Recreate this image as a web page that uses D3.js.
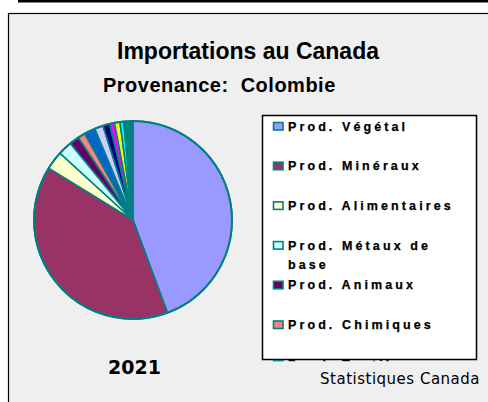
<!DOCTYPE html>
<meta charset="utf-8">
<script src="https://d3js.org/d3.v7.min.js"></script>
<style>
  body { margin: 0; background: #fff; }
</style>
<div id="chart"></div>
<script>

// categories (clockwise from 12 o'clock), share in %
var categories = ["Prod. Végétal", "Prod. Minéraux", "Prod. Alimentaires",
  "Prod. Métaux de base", "Prod. Animaux", "Prod. Chimiques", "Prod. Textiles",
  "Prod. Plastiques", "Machines", "Prod. Papier", "Prod. Pierres",
  "Instruments", "Autres"]
var values = [44.3, 39.4, 3.0, 2.3, 1.6, 1.2, 1.8, 1.4, 1.1, 0.8, 0.9, 0.6, 1.5]
var colors = ["#9999ff", "#993366", "#ffffcc", "#ccffff", "#660066", "#ff8080",
  "#0066cc", "#ccccff", "#000080", "#ff00ff", "#ffff00", "#00ffff", "#008080"]

var title = "Importations au Canada"
var subtitle = "Provenance:  Colombie"
var year = "2021"
var source = "Statistiques Canada"

var width = 488, height = 402

var svg = d3.select("#chart")
  .append("svg")
    .attr("width", width)
    .attr("height", height)

// frame
svg.append("rect")
  .attr("x", 18).attr("y", 0)
  .attr("width", width - 18).attr("height", 2.5)
  .attr("fill", "#000")
svg.append("rect")
  .attr("x", 8.5).attr("y", 13.5)
  .attr("width", width).attr("height", height)
  .attr("fill", "#efefef")
  .attr("stroke", "#000")
  .attr("stroke-width", 1.2)

// titles
svg.append("text")
  .attr("x", 117).attr("y", 59)
  .style("font-family", "Liberation Sans, Arial, sans-serif")
  .style("font-weight", "bold")
  .style("font-size", "23px")
  .text(title)
svg.append("text")
  .attr("x", 103).attr("y", 92)
  .style("font-family", "Liberation Sans, Arial, sans-serif")
  .style("font-weight", "bold")
  .style("font-size", "20px")
  .style("letter-spacing", "0.5px")
  .style("white-space", "pre")
  .text(subtitle)

// pie
var pie = d3.pie().sort(null).value(function(d) { return d })
var arc = d3.arc().innerRadius(0).outerRadius(99)

var g = svg.append("g")
  .attr("transform", "translate(133,220)")

g.selectAll("path")
  .data(pie(values))
  .enter()
  .append("path")
    .attr("d", arc)
    .attr("fill", function(d, i) { return colors[i] })
    .attr("stroke", "#008080")
    .attr("stroke-width", 1.6)
    .attr("stroke-linejoin", "round")

g.append("circle")
  .attr("r", 99)
  .attr("fill", "none")
  .attr("stroke", "#008080")
  .attr("stroke-width", 2)

// legend (box is too small, so the list is cut at its bottom edge)
var lx = 262.5, ly = 115.5, lw = 214, lh = 244
svg.append("defs").append("clipPath")
  .attr("id", "legclip")
  .append("rect")
    .attr("x", lx).attr("y", ly).attr("width", lw + 2).attr("height", 245.8)

svg.append("rect")
  .attr("x", lx).attr("y", ly)
  .attr("width", lw).attr("height", lh)
  .attr("fill", "#fff")
  .attr("stroke", "#000")
  .attr("stroke-width", 1.5)

var leg = svg.append("g").attr("clip-path", "url(#legclip)")

var items = leg.selectAll("g.item")
  .data(categories.slice(0, 7))
  .enter()
  .append("g")
    .attr("class", "item")
    .attr("transform", function(d, i) { return "translate(273," + (130.5 + i * 39.7) + ")" })

items.append("rect")
  .attr("x", 0.5).attr("y", -8)
  .attr("width", 9.5).attr("height", 7.5)
  .attr("fill", function(d, i) { return colors[i] })
  .attr("stroke", "#008080")
  .attr("stroke-width", 1.6)

items.append("text")
  .attr("x", 15).attr("y", 0)
  .style("font-family", "Liberation Sans, Arial, sans-serif")
  .style("font-weight", "bold")
  .style("font-size", "12.5px")
  .style("letter-spacing", "3.1px")
  .style("stroke", "#000")
  .style("stroke-width", 0.25)
  .each(function(d) {
    // wrap long labels inside the legend box
    var el = d3.select(this)
    var words = d.split(" ")
    var line = []
    var tspan = el.append("tspan").attr("x", 15).attr("dy", 0)
    words.forEach(function(w) {
      line.push(w)
      tspan.text(line.join(" "))
      if (tspan.node().getComputedTextLength() > 180 && line.length > 1) {
        line.pop()
        tspan.text(line.join(" "))
        line = [w]
        tspan = el.append("tspan").attr("x", 15).attr("dy", 19).text(w)
      }
    })
  })

// year and source
svg.append("text")
  .attr("x", 134.5).attr("y", 374)
  .attr("text-anchor", "middle")
  .style("font-family", "DejaVu Sans, sans-serif")
  .style("font-weight", "bold")
  .style("font-size", "19px")
  .text(year)

svg.append("text")
  .attr("x", 480).attr("y", 384)
  .attr("text-anchor", "end")
  .style("font-family", "DejaVu Sans, sans-serif")
  .style("font-size", "15px")
  .style("letter-spacing", "0.5px")
  .text(source)

</script>
